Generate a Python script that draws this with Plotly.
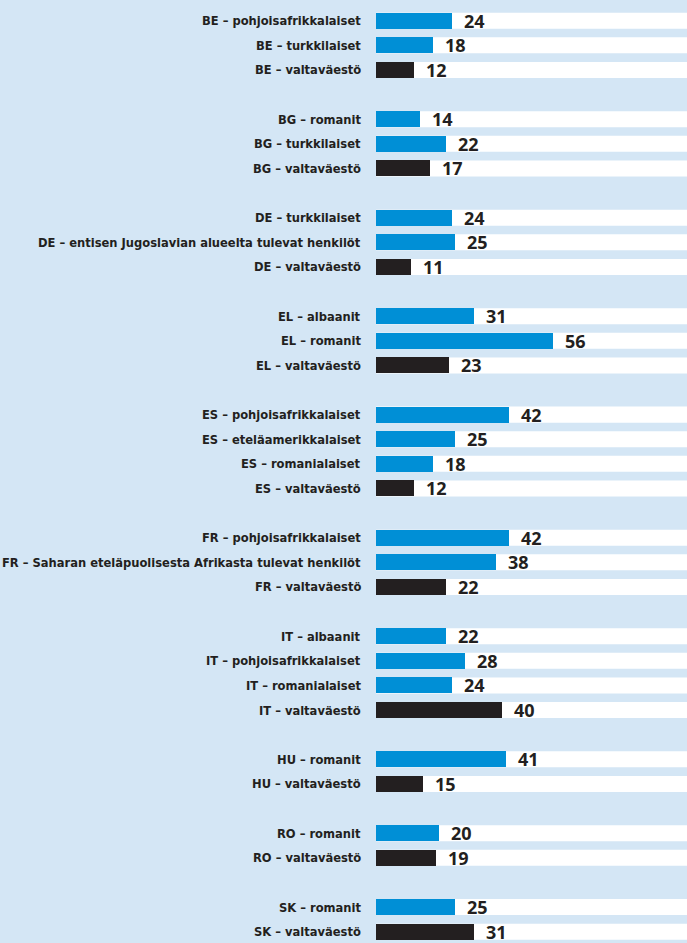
import plotly.graph_objects as go

groups = ["BE", "BG", "DE", "EL", "ES", "FR", "IT", "HU", "RO", "SK"]
group_labels = [
    ["BE – pohjoisafrikkalaiset", "BE – turkkilaiset", "BE – valtaväestö"],
    ["BG – romanit", "BG – turkkilaiset", "BG – valtaväestö"],
    ["DE – turkkilaiset", "DE – entisen Jugoslavian alueelta tulevat henkilöt", "DE – valtaväestö"],
    ["EL – albaanit", "EL – romanit", "EL – valtaväestö"],
    ["ES – pohjoisafrikkalaiset", "ES – eteläamerikkalaiset", "ES – romanialaiset", "ES – valtaväestö"],
    ["FR – pohjoisafrikkalaiset", "FR – Saharan eteläpuolisesta Afrikasta tulevat henkilöt", "FR – valtaväestö"],
    ["IT – albaanit", "IT – pohjoisafrikkalaiset", "IT – romanialaiset", "IT – valtaväestö"],
    ["HU – romanit", "HU – valtaväestö"],
    ["RO – romanit", "RO – valtaväestö"],
    ["SK – romanit", "SK – valtaväestö"],
]
group_values = [
    [24, 18, 12],
    [14, 22, 17],
    [24, 25, 11],
    [31, 56, 23],
    [42, 25, 18, 12],
    [42, 38, 22],
    [22, 28, 24, 40],
    [41, 15],
    [20, 19],
    [25, 31],
]

BLUE = "#008fd6"
BLACK = "#231f20"
BG = "#d4e6f5"

labels, values, rows, colors = [], [], [], []
r = 0
for gi, (labs, vals) in enumerate(zip(group_labels, group_values)):
    for lab, v in zip(labs, vals):
        labels.append(lab)
        values.append(v)
        rows.append(r)
        colors.append(BLACK if "valtaväestö" in lab else BLUE)
        r += 1
    r += 1  # blank row between groups

BAND = 0.65
fig = go.Figure()
fig.add_trace(go.Bar(
    x=values, y=rows, orientation="h", width=BAND,
    marker=dict(color=colors, line=dict(width=0)),
    hoverinfo="skip",
))

shapes = []
for y in rows:
    shapes.append(dict(type="rect", xref="paper", yref="y", x0=0, x1=1,
                       y0=y - BAND / 2, y1=y + BAND / 2,
                       fillcolor="white", line=dict(width=0), layer="below"))

annotations = []
for lab, v, y in zip(labels, values, rows):
    annotations.append(dict(xref="paper", yref="y", x=0, y=y, text=lab,
                            xanchor="right", yanchor="middle", xshift=-13, showarrow=False,
                            font=dict(family="DejaVu Sans Condensed, Liberation Sans Narrow, Roboto",
                                      size=12.8, color=BLACK, weight="bold")))
    annotations.append(dict(xref="x", yref="y", x=v, y=y, text=str(v),
                            xanchor="left", yanchor="middle", xshift=10, showarrow=False,
                            font=dict(family="Open Sans", size=18, color=BLACK, weight="bold")))

fig.update_layout(
    width=687, height=943,
    margin=dict(l=376, r=0, t=0, b=0),
    paper_bgcolor=BG, plot_bgcolor=BG,
    showlegend=False,
    bargap=0,
    xaxis=dict(range=[0, 98.4], visible=False, fixedrange=True),
    yaxis=dict(range=[37.46, -0.84], visible=False, fixedrange=True),
    shapes=shapes,
    annotations=annotations,
)

fig.write_html(
    "out.html",
    config={"displayModeBar": False},
    post_script="document.body.style.margin='0';document.body.style.background='%s';" % BG,
)
